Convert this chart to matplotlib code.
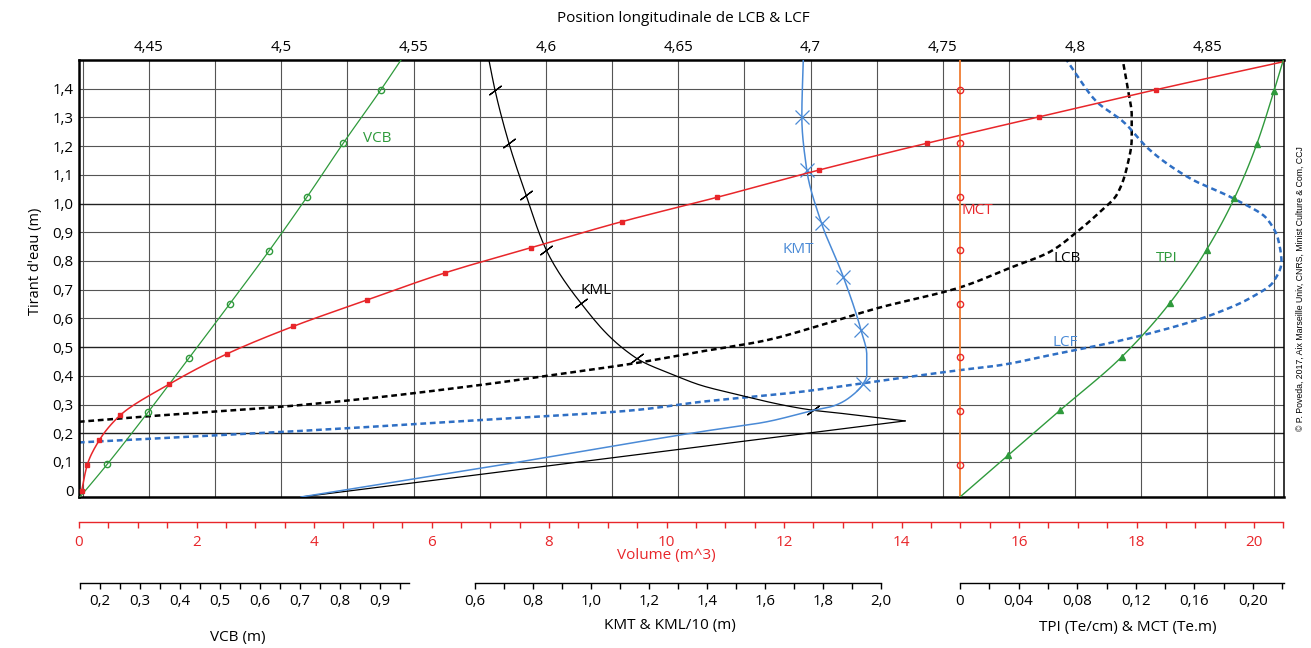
import numpy as np
import matplotlib
matplotlib.use("Agg")
import matplotlib.pyplot as plt
from matplotlib.ticker import FixedLocator, FuncFormatter

plt.rcParams["font.family"] = ["Open Sans", "DejaVu Sans"]

# Hydrostatic curves, all against draft (m)
vcb_draft = [-0.022, 0.092, 0.275, 0.463, 0.650, 0.836, 1.024, 1.210, 1.397, 1.5]
vcb = [0.15, 0.218, 0.321, 0.423, 0.524, 0.623, 0.718, 0.808, 0.9025, 0.9525]

vol_draft = [0.0, 0.091, 0.176, 0.263, 0.370, 0.476, 0.572, 0.664, 0.759, 0.846,
             0.937, 1.022, 1.117, 1.210, 1.302, 1.397, 1.494]
volume = [0.046, 0.142, 0.346, 0.703, 1.526, 2.514, 3.643, 4.90, 6.235, 7.69,
          9.24, 10.865, 12.6, 14.43, 16.34, 18.34, 20.5]

kmt_draft = [-0.022, 0.089, 0.205, 0.24, 0.28, 0.295, 0.325, 0.373, 0.402, 0.472,
             0.559, 0.745, 0.931, 1.117, 1.303, 1.5]
kmt = [0.0, 0.686, 1.376, 1.606, 1.767, 1.836, 1.892, 1.939, 1.951, 1.951,
       1.931, 1.87, 1.795, 1.744, 1.727, 1.732]
kmt_marked = [7, 10, 11, 12, 13, 14]

kml_draft = [0.243, 0.266, 0.28, 0.298, 0.33, 0.368, 0.397, 0.461, 0.652, 0.840,
             1.03, 1.21, 1.395, 1.5]
kml = [2.083, 1.893, 1.767, 1.663, 1.525, 1.376, 1.30, 1.157, 0.966, 0.845,
       0.776, 0.717, 0.669, 0.648]
kml_marked = [2, 7, 8, 9, 10, 11, 12]
kml_low_draft = [-0.022, 0.243]
kml_low = [0.0, 2.083]

lcb_draft = [0.240, 0.257, 0.298, 0.368, 0.40, 0.443, 0.484, 0.524, 0.565, 0.635,
             0.708, 0.776, 0.832, 0.896, 0.971, 1.03, 1.123, 1.227, 1.308, 1.39, 1.5]
lcb = [4.4235, 4.4466, 4.5071, 4.5751, 4.6003, 4.633, 4.6582, 4.6834, 4.6998, 4.725,
       4.7565, 4.7754, 4.7905, 4.80, 4.8094, 4.8157, 4.8195, 4.8214, 4.8214, 4.8201, 4.818]

lcf_draft = [0.168, 0.208, 0.246, 0.28, 0.309, 0.344, 0.373, 0.42, 0.437, 0.472,
             0.507, 0.548, 0.606, 0.67, 0.727, 0.797, 0.873, 0.948, 1.018, 1.088,
             1.186, 1.285, 1.355, 1.448, 1.5]
lcf = [4.4235, 4.507, 4.5751, 4.633, 4.6582, 4.696, 4.7187, 4.7565, 4.7716, 4.7905,
       4.8094, 4.8283, 4.8497, 4.866, 4.8749, 4.878, 4.8768, 4.8724, 4.8598, 4.8434,
       4.8283, 4.8182, 4.8081, 4.8006, 4.7968]

tpi_draft = [-0.022, 0.124, 0.28, 0.466, 0.654, 0.84, 1.018, 1.206, 1.392, 1.5]
tpi = [0.0, 0.033, 0.0683, 0.1104, 0.1433, 0.1684, 0.1872, 0.2025, 0.2143, 0.2207]

mct_draft = [0.091, 0.278, 0.464, 0.651, 0.837, 1.024, 1.21, 1.395]
mct = [0.0] * 8
mct_line_draft = [-0.022, 1.5]
mct_line = [0.0, 0.0]

draft_ticks = [0.1 * i for i in range(15)]
lcb_ticks = [4.45, 4.5, 4.55, 4.6, 4.65, 4.7, 4.75, 4.8, 4.85]
vol_ticks = list(range(0, 21, 2))
vcb_ticks = [0.2, 0.3, 0.4, 0.5, 0.6, 0.7, 0.8, 0.9]
kmt_ticks = [0.6, 0.8, 1.0, 1.2, 1.4, 1.6, 1.8, 2.0]
tpi_ticks = [0.0, 0.04, 0.08, 0.12, 0.16, 0.20]

RED = "#e8262a"
GREEN = "#2f9a3c"
BLUE = "#4a8ad6"
BLUE_D = "#2f6fc4"
ORANGE = "#f07d32"
GRID = "#555555"


def smooth(draft, value, per_seg=14):
    """Monotone cubic (Fritsch-Carlson) curve through the points, value as f(draft)."""
    d = np.asarray(draft, float)
    v = np.asarray(value, float)
    h = np.diff(d)
    s = np.diff(v) / h
    m = np.zeros_like(v)
    m[0], m[-1] = s[0], s[-1]
    for k in range(1, len(v) - 1):
        if s[k - 1] * s[k] > 0:
            w1 = 2 * h[k] + h[k - 1]
            w2 = h[k] + 2 * h[k - 1]
            m[k] = (w1 + w2) / (w1 / s[k - 1] + w2 / s[k])
    dd, vv = [], []
    for k in range(len(h)):
        t = np.linspace(0, 1, per_seg, endpoint=(k == len(h) - 1))
        h00 = 2 * t**3 - 3 * t**2 + 1
        h10 = t**3 - 2 * t**2 + t
        h01 = -2 * t**3 + 3 * t**2
        h11 = t**3 - t**2
        vv.append(h00 * v[k] + h10 * h[k] * m[k] + h01 * v[k + 1] + h11 * h[k] * m[k + 1])
        dd.append(d[k] + t * h[k])
    return np.concatenate(dd), np.concatenate(vv)


def comma(fmt):
    return FuncFormatter(lambda v, pos: "0" if abs(v) < 1e-9 else fmt.format(v).replace(".", ","))


W, H = 1311, 648
LEFT, RIGHT, TOP, BOTTOM = 79, 1284, 60, 497
TICK_SIZE = 10.8
LABEL_SIZE = 11


def px_lim(val0, px0, px_per_unit):
    return (val0 + (LEFT - px0) / px_per_unit, val0 + (RIGHT - px0) / px_per_unit)


fig = plt.figure(figsize=(W / 100, H / 100), dpi=100)
box = [LEFT / W, 1 - BOTTOM / H, (RIGHT - LEFT) / W, (BOTTOM - TOP) / H]

ax = fig.add_axes(box)
ax.set_xlim(px_lim(4.45, 149, 2646))
ax.set_ylim(-0.022, 1.5)
for x in np.arange(4.425, 4.88, 0.025):
    ax.axvline(x, color=GRID, lw=0.8, zorder=0)
for y in draft_ticks[1:]:
    dark = round(y * 10) in (2, 5, 10)
    ax.axhline(y, color="#222222" if dark else GRID, lw=1.0 if dark else 0.8, zorder=0)
for side in ("top", "bottom", "left"):
    ax.spines[side].set_linewidth(1.8)
ax.spines["right"].set_linewidth(1.1)
ax.xaxis.tick_top()
ax.xaxis.set_major_locator(FixedLocator(lcb_ticks))
ax.xaxis.set_major_formatter(comma("{:g}"))
ax.yaxis.set_major_locator(FixedLocator(draft_ticks))
ax.yaxis.set_major_formatter(comma("{:.1f}"))
ax.tick_params(axis="both", length=0, labelsize=TICK_SIZE)
ax.tick_params(axis="x", pad=3.5)
ax.tick_params(axis="y", pad=4)


def overlay(xlim):
    a = fig.add_axes(box, sharey=ax)
    a.set_xlim(xlim)
    a.patch.set_visible(False)
    a.axis("off")
    return a


# LCB & LCF on the top scale
ax.plot(*smooth(lcb_draft, lcb)[::-1], color="black", lw=1.8, dashes=(2.3, 1.5))
ax.plot(*smooth(lcf_draft, lcf)[::-1], color=BLUE_D, lw=1.8, dashes=(2.3, 1.5))

# KMT & KML/10
ax_km = overlay(px_lim(0.6, 475, 290))
ax_km.plot(kml_low, kml_low_draft, color="black", lw=0.9)
ax_km.plot(*smooth(kml_draft, kml)[::-1], color="black", lw=0.9)
ax_km.plot(np.array(kml)[kml_marked], np.array(kml_draft)[kml_marked], ls="none",
           marker=(2, 2, -53), ms=11, mew=0.9, color="black")
ax_km.plot(*smooth(kmt_draft, kmt)[::-1], color=BLUE, lw=1.1)
ax_km.plot(np.array(kmt)[kmt_marked], np.array(kmt_draft)[kmt_marked], ls="none",
           marker="x", ms=10, mew=0.9, color=BLUE)

# VCB
ax_vcb = overlay(px_lim(0.2, 100, 400))
ax_vcb.plot(*smooth(vcb_draft, vcb)[::-1], color=GREEN, lw=0.9)
ax_vcb.plot(vcb[1:-1], vcb_draft[1:-1], ls="none", marker="o", ms=4.5,
            mfc="none", mec=GREEN, mew=1.0)

# Volume
ax_vol = overlay(px_lim(0.0, 79, 58.75))
ax_vol.plot(*smooth(vol_draft, volume)[::-1], color=RED, lw=1.1)
ax_vol.plot(volume[:-1], vol_draft[:-1], ls="none", marker="s", ms=3, color=RED)

# TPI & MCT
ax_tpi = overlay(px_lim(0.0, 960, 1465))
ax_tpi.plot(mct_line, mct_line_draft, color=ORANGE, lw=1.3)
ax_tpi.plot(mct, mct_draft, ls="none", marker="o", ms=4.5, mfc="none", mec=RED, mew=1.0)
ax_tpi.plot(*smooth(tpi_draft, tpi)[::-1], color=GREEN, lw=1.0)
ax_tpi.plot(tpi[1:-1], tpi_draft[1:-1], ls="none", marker="^", ms=4, color=GREEN)

# Curve names
for name, x, y, c in [("VCB", 377, 138, GREEN), ("KML", 596, 291, "black"),
                      ("KMT", 798, 250, BLUE), ("MCT", 977, 211, RED),
                      ("LCB", 1067, 258, "black"), ("TPI", 1167, 258, GREEN),
                      ("LCF", 1065, 343, BLUE)]:
    fig.text(x / W, 1 - y / H, name, color=c, fontsize=11, ha="center", va="center")


def scale_axis(y_px, xlim, bounds, major, minor, fmt, color, size, pad):
    a = fig.add_axes([LEFT / W, 1 - y_px / H, (RIGHT - LEFT) / W, 0.001])
    a.set_xlim(xlim)
    a.patch.set_visible(False)
    for side in ("left", "right", "top"):
        a.spines[side].set_visible(False)
    a.spines["bottom"].set_bounds(*bounds)
    a.spines["bottom"].set_color(color)
    a.spines["bottom"].set_linewidth(1.0)
    a.set_yticks([])
    a.xaxis.set_major_locator(FixedLocator(major))
    a.xaxis.set_minor_locator(FixedLocator(minor))
    a.xaxis.set_major_formatter(fmt)
    a.tick_params(axis="x", which="both", direction="out", length=4.5, width=1.0,
                  color=color, labelcolor=color, labelsize=size, pad=pad)
    return a


scale_axis(522, px_lim(0.0, 79, 58.75), (0, 20.5), vol_ticks,
           np.arange(0, 20.6, 0.5), FuncFormatter(lambda v, p: f"{v:g}"), RED, 11, 4.5)
scale_axis(583, px_lim(0.2, 100, 400), (0.15, 0.9725), vcb_ticks,
           np.arange(0.15, 0.96, 0.05), comma("{:.1f}"), "black", TICK_SIZE, 3.5)
scale_axis(583, px_lim(0.6, 475, 290), (0.6, 2.0), kmt_ticks,
           np.arange(0.6, 2.01, 0.1), comma("{:.1f}"), "black", TICK_SIZE, 3.5)
scale_axis(583, px_lim(0.0, 960, 1465), (0.0, 0.2212), tpi_ticks,
           np.arange(0.0, 0.221, 0.02), comma("{:.2f}"), "black", TICK_SIZE, 3.5)

fig.text(683 / W, 1 - 18 / H, "Position longitudinale de LCB & LCF", fontsize=LABEL_SIZE,
         ha="center", va="center")
fig.text(35 / W, 1 - 261 / H, "Tirant d'eau (m)", fontsize=10.5, rotation=90,
         ha="center", va="center")
fig.text(666 / W, 1 - 556 / H, "Volume (m^3)", color=RED, fontsize=LABEL_SIZE,
         ha="center", va="center")
fig.text(238 / W, 1 - 638 / H, "VCB (m)", fontsize=LABEL_SIZE, ha="center", va="center")
fig.text(670 / W, 1 - 625 / H, "KMT & KML/10 (m)", fontsize=LABEL_SIZE, ha="center",
         va="center")
fig.text(1128 / W, 1 - 628 / H, "TPI (Te/cm) & MCT (Te.m)", fontsize=LABEL_SIZE,
         ha="center", va="center")
fig.text(1300 / W, 1 - 289 / H,
         "\u00a9 P. Poveda, 2017, Aix Marseille Univ, CNRS, Minist Culture & Com, CCJ",
         family=["Liberation Sans", "DejaVu Sans"], fontsize=6.3, rotation=90,
         ha="center", va="center")

fig.savefig("out.png", dpi=100)
